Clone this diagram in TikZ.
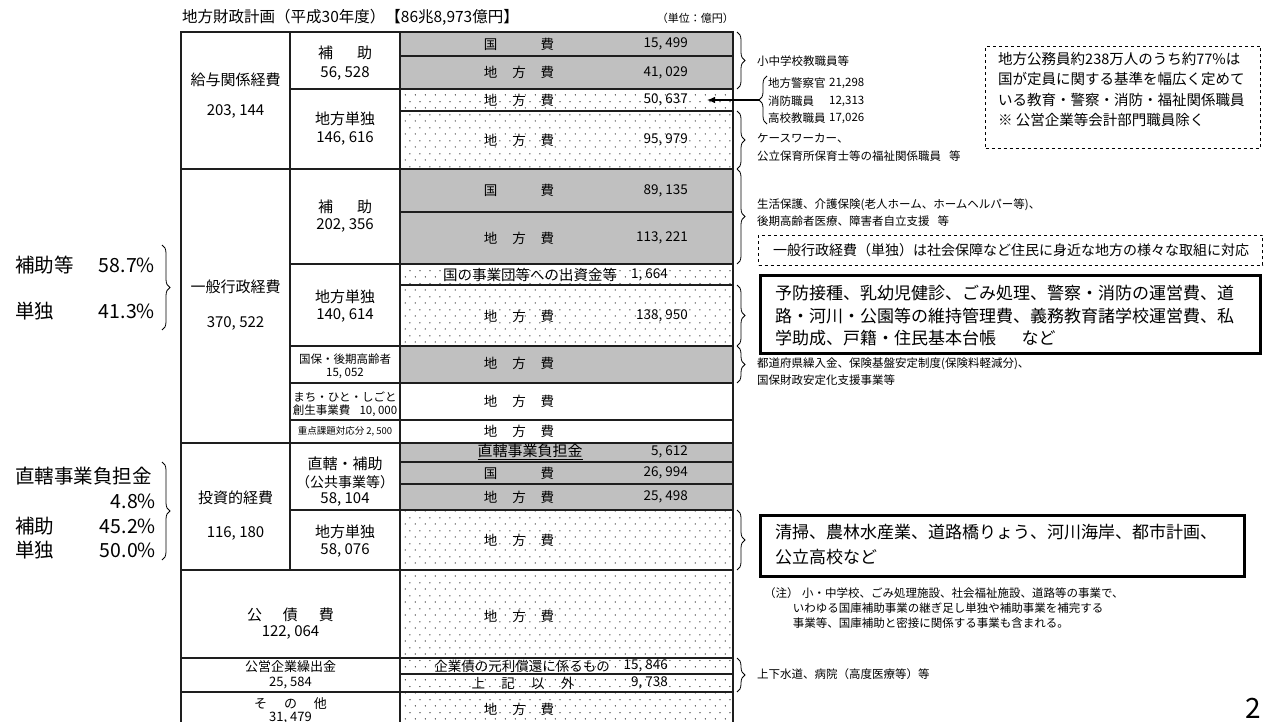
\documentclass[tikz,border=0pt]{standalone}
\usepackage{fontspec}
\setmainfont{Noto Sans CJK JP}
\usetikzlibrary{patterns,decorations.pathreplacing,arrows.meta}
\definecolor{gfill}{RGB}{192,192,192}
\definecolor{lineg}{RGB}{30,30,30}
\pgfdeclarepatternformonly{sparsedots}{\pgfpointorigin}{\pgfpoint{9.6pt}{13pt}}{\pgfpoint{9.6pt}{13pt}}{%
  \pgfpathcircle{\pgfpoint{2.4pt}{3.25pt}}{0.65pt}%
  \pgfpathcircle{\pgfpoint{7.2pt}{9.75pt}}{0.65pt}%
  \pgfusepath{fill}}
\newcommand{\cfee}{地\hspace{1.1em}方\hspace{1.1em}費}
\newcommand{\kfee}{国\hspace{3.2em}費}
\begin{document}
\begin{tikzpicture}[x=1pt,y=-1pt,
  wcell/.style={draw=lineg,line width=1.1pt},
  gcell/.style={draw=lineg,line width=1.1pt,fill=gfill},
  dcell/.style={draw=lineg,line width=1.1pt,pattern=sparsedots},
  lab/.style={font=\fontsize{15}{17}\selectfont,inner sep=0pt,align=center},
  labc/.style={font=\fontsize{13.5}{16}\selectfont,inner sep=0pt,align=center},
  labm/.style={font=\fontsize{13}{15}\selectfont,inner sep=0pt,align=center},
  labs/.style={font=\fontsize{11.5}{13}\selectfont,inner sep=0pt,align=center},
  labt/.style={font=\fontsize{9.5}{11}\selectfont,inner sep=0pt},
  num/.style={font=\fontsize{13.5}{16}\selectfont,inner sep=0pt,anchor=east},
  note/.style={font=\fontsize{11.5}{17.5}\selectfont,inner sep=0pt,anchor=west,align=left},
  big/.style={font=\fontsize{17}{22.5}\selectfont,inner sep=0pt,anchor=west,align=left},
  side/.style={font=\fontsize{19.5}{22}\selectfont,inner sep=0pt},
  brc/.style={decorate,decoration={brace,amplitude=8pt},line width=0.8pt},
]
\useasboundingbox (0,0) rectangle (1264,722);
\begin{scope}
\clip (0,0) rectangle (1264,722);
% ---------- section 1
\draw[wcell] (181,32) rectangle (290,169);
\draw[wcell] (290,32) rectangle (400,89);
\draw[wcell] (290,89) rectangle (400,169);
\draw[gcell] (400,32) rectangle (733,56);
\draw[gcell] (400,56) rectangle (733,89);
\draw[dcell] (400,89) rectangle (733,111);
\draw[dcell] (400,111) rectangle (733,169);
% ---------- section 2
\draw[wcell] (181,169) rectangle (290,443);
\draw[wcell] (290,169) rectangle (400,264);
\draw[wcell] (290,264) rectangle (400,346);
\draw[wcell] (290,346) rectangle (400,383);
\draw[wcell] (290,383) rectangle (400,420);
\draw[wcell] (290,420) rectangle (400,443);
\draw[gcell] (400,169) rectangle (733,212);
\draw[gcell] (400,212) rectangle (733,264);
\draw[dcell] (400,264) rectangle (733,285);
\draw[dcell] (400,285) rectangle (733,346);
\draw[gcell] (400,346) rectangle (733,383);
\draw[wcell] (400,383) rectangle (733,420);
\draw[wcell] (400,420) rectangle (733,443);
% ---------- section 3
\draw[wcell] (181,443) rectangle (290,570);
\draw[wcell] (290,443) rectangle (400,510);
\draw[wcell] (290,510) rectangle (400,570);
\draw[gcell] (400,443) rectangle (733,462);
\draw[gcell] (400,462) rectangle (733,484);
\draw[gcell] (400,484) rectangle (733,510);
\draw[dcell] (400,510) rectangle (733,570);
% ---------- sections 4-6
\draw[wcell] (181,570) rectangle (400,658);
\draw[dcell] (400,570) rectangle (733,658);
\draw[wcell] (181,658) rectangle (400,692);
\draw[dcell] (400,658) rectangle (733,674);
\draw[dcell] (400,674) rectangle (733,692);
\draw[wcell] (181,692) rectangle (400,735);
\draw[dcell] (400,692) rectangle (733,735);
\end{scope}

% ---------- title
\node[font=\fontsize{15.5}{18}\selectfont,inner sep=0pt,anchor=west] (title) at (182,17) {地方財政計画（平成30年度）【86兆8,973億円】};
\node[font=\fontsize{11}{13}\selectfont,inner sep=0pt,anchor=east] (unit) at (734,18) {（単位：億円）};

% ---------- column 1
\node[lab] (c1a) at (235.5,80) {給与関係経費};
\node[lab] (c1b) at (235.5,111) {203, 144};
\node[lab] (c1c) at (235.5,287) {一般行政経費};
\node[lab] (c1d) at (235.5,323) {370, 522};
\node[lab] (c1e) at (235.5,498) {投資的経費};
\node[lab] (c1f) at (235.5,533) {116, 180};
\node[lab] (c1g) at (290.5,615) {公\hspace{1.4em}債\hspace{1.4em}費};
\node[lab] (c1h) at (290.5,632) {122, 064};
\node[labm] (c1i) at (290.5,666.5) {公営企業繰出金};
\node[labm] (c1j) at (290.5,683) {25, 584};
\node[labm] (c1k) at (290.5,703.5) {そ\hspace{1.3em}の\hspace{1.3em}他};
\node[labm] (c1l) at (290.5,718.5) {31, 479};

% ---------- column 2
\node[lab] (c2a) at (345,53) {補\hspace{1.6em}助};
\node[lab] (c2b) at (345,73) {56, 528};
\node[lab] (c2c) at (345,119) {地方単独};
\node[lab] (c2d) at (345,138) {146, 616};
\node[lab] (c2e) at (345,207) {補\hspace{1.6em}助};
\node[lab] (c2f) at (345,225) {202, 356};
\node[lab] (c2g) at (345,297) {地方単独};
\node[lab] (c2h) at (345,315) {140, 614};
\node[labs] (c2i) at (345,359) {国保・後期高齢者};
\node[labs] (c2j) at (345,373.5) {15, 052};
\node[labs] (c2k) at (345,397) {まち・ひと・しごと};
\node[labs] (c2l) at (345,411) {創生事業費\hspace{0.8em}10, 000};
\node[labt] (c2m) at (345,431.5) {重点課題対応分 2, 500};
\node[lab] (c2n) at (345,464) {直轄・補助};
\node[lab,font=\fontsize{14}{16}\selectfont] (c2o) at (345,482) {（公共事業等）};
\node[lab] (c2p) at (345,499) {58, 104};
\node[lab] (c2q) at (345,531.5) {地方単独};
\node[lab] (c2r) at (345,550) {58, 076};

% ---------- column 3
\node[labc] (r1l) at (519,44) {\kfee};
\node[num] (r1n) at (688,44) {15, 499};
\node[labc] (r2l) at (519,72.5) {\cfee};
\node[num] (r2n) at (688,72.5) {41, 029};
\node[labc] (r3l) at (519,100) {\cfee};
\node[num] (r3n) at (688,100) {50, 637};
\node[labc] (r4l) at (519,140) {\cfee};
\node[num] (r4n) at (688,140) {95, 979};
\node[labc] (r5l) at (519,190.5) {\kfee};
\node[num] (r5n) at (688,190.5) {89, 135};
\node[labc] (r6l) at (519,238) {\cfee};
\node[num] (r6n) at (688,238) {113, 221};
\node[lab,font=\fontsize{14.5}{16}\selectfont] (r7l) at (530,274.5) {国の事業団等への出資金等};
\node[num] (r7n) at (668,274.5) {1, 664};
\node[labc] (r8l) at (519,316) {\cfee};
\node[num] (r8n) at (688,316) {138, 950};
\node[labc] (r9l) at (519,363) {\cfee};
\node[labc] (r10l) at (519,401.5) {\cfee};
\node[labc] (r11l) at (519,431.5) {\cfee};
\node[lab] (r12l) at (530,452) {\underline{直轄事業負担金}};
\node[num] (r12n) at (688,452) {5, 612};
\node[labc] (r13l) at (519,473) {\kfee};
\node[num] (r13n) at (688,473) {26, 994};
\node[labc] (r14l) at (519,497) {\cfee};
\node[num] (r14n) at (688,497) {25, 498};
\node[labc] (r15l) at (519,540) {\cfee};
\node[labc] (r16l) at (519,616) {\cfee};
\node[labc] (r17l) at (522,666) {企業債の元利償還に係るもの};
\node[num] (r17n) at (668,666) {15, 846};
\node[labc] (r18l) at (523,683) {上\hspace{1.2em}記\hspace{1.2em}以\hspace{1.2em}外};
\node[num] (r18n) at (668,683) {9, 738};
\node[labc] (r19l) at (519,709) {\cfee};

% ---------- left annotations
\node[side,anchor=west] (l1) at (15,265) {補助等};
\node[side,anchor=east] (l1n) at (155,265) {58.7\%};
\node[side,anchor=west] (l2) at (15,311.5) {単独};
\node[side,anchor=east] (l2n) at (155,311.5) {41.3\%};
\coordinate (lb1t) at (162,245);
\coordinate (lb1b) at (162,330);
\draw[brc] (lb1t) -- (lb1b);
\node[side,anchor=west] (l3) at (15,476.5) {直轄事業負担金};
\node[side,anchor=east] (l3n) at (156,501.5) {4.8\%};
\node[side,anchor=west] (l4) at (15,526.5) {補助};
\node[side,anchor=east] (l4n) at (156,526.5) {45.2\%};
\node[side,anchor=west] (l5) at (15,550) {単独};
\node[side,anchor=east] (l5n) at (156,550) {50.0\%};
\coordinate (lb2t) at (162,462);
\coordinate (lb2b) at (162,560);
\draw[brc] (lb2t) -- (lb2b);

% ---------- right annotations
\coordinate (rb1t) at (737,32);
\coordinate (rb1b) at (737,89);
\draw[brc] (rb1t) -- (rb1b);
\node[note] (n1) at (757,61.5) {小中学校教職員等};

\coordinate (rb2b) at (767,124);
\coordinate (rb2t) at (767,76);
\draw[brc] (rb2b) -- (rb2t);
\coordinate (rb2tip) at (759,100);
\coordinate (arrend) at (707,100);
\draw[line width=1.1pt,-{Latex[length=8pt,width=6.5pt]}] (rb2tip) -- (arrend);
\node[note] (n2) at (768,83) {地方警察官};
\node[note] (n2n) at (829,83) {21,298};
\node[note] (n3) at (768,101) {消防職員};
\node[note] (n3n) at (829,101) {12,313};
\node[note] (n4) at (768,118.5) {高校教職員};
\node[note] (n4n) at (829,118.5) {17,026};

\coordinate (rb3t) at (737,111);
\coordinate (rb3b) at (737,169);
\draw[brc] (rb3t) -- (rb3b);
\node[note] (n5) at (757,147.5) {ケースワーカー、\\公立保育所保育士等の福祉関係職員\hspace{0.7em}等};

\node[draw,dashed,line width=1pt,inner sep=0pt,minimum width=275pt,minimum height=102pt,anchor=north west] (dbox1) at (985,46) {};
\node[font=\fontsize{14.5}{20.3}\selectfont,inner sep=0pt,anchor=north west,align=left] (dtext1) at (998,52) {地方公務員約238万人のうち約77\%は\\国が定員に関する基準を幅広く定めて\\いる教育・警察・消防・福祉関係職員\\※ 公営企業等会計部門職員除く};

\coordinate (rb4t) at (737,169);
\coordinate (rb4b) at (737,264);
\draw[brc] (rb4t) -- (rb4b);
\node[note] (n6) at (757,212.5) {生活保護、介護保険(老人ホーム、ホームヘルパー等)、\\後期高齢者医療、障害者自立支援\hspace{0.7em}等};

\node[draw,dashed,line width=1pt,inner sep=0pt,minimum width=504pt,minimum height=30pt,anchor=north west] (dbox2) at (758,235) {};
\node[font=\fontsize{14}{16}\selectfont,inner sep=0pt,anchor=west] (dtext2) at (773,250) {一般行政経費（単独）は社会保障など住民に身近な地方の様々な取組に対応};

\coordinate (rb5t) at (737,285);
\coordinate (rb5b) at (737,346);
\draw[brc] (rb5t) -- (rb5b);
\node[draw,line width=2.8pt,inner sep=0pt,minimum width=500pt,minimum height=78pt,anchor=north west] (tbox1) at (759,274) {};
\node[big] (ttext1) at (775,316) {予防接種、乳幼児健診、ごみ処理、警察・消防の運営費、道\\路・河川・公園等の維持管理費、義務教育諸学校運営費、私\\学助成、戸籍・住民基本台帳\hspace{1.5em}など};

\coordinate (rb6t) at (737,346);
\coordinate (rb6b) at (737,383);
\draw[brc] (rb6t) -- (rb6b);
\node[note] (n7) at (757,371.5) {都道府県繰入金、保険基盤安定制度(保険料軽減分)、\\国保財政安定化支援事業等};

\coordinate (rb7t) at (737,510);
\coordinate (rb7b) at (737,570);
\draw[brc] (rb7t) -- (rb7b);
\node[draw,line width=2.8pt,inner sep=0pt,minimum width=484pt,minimum height=61pt,anchor=north west] (tbox2) at (759,514) {};
\node[big,font=\fontsize{17}{25}\selectfont] (ttext2) at (775,545) {清掃、農林水産業、道路橋りょう、河川海岸、都市計画、\\公立高校など};

\node[note,font=\fontsize{11.5}{15}\selectfont] (n8) at (764,608) {（注）\hspace{0.3em}小・中学校、ごみ処理施設、社会福祉施設、道路等の事業で、\\\hspace{2.5em}いわゆる国庫補助事業の継ぎ足し単独や補助事業を補完する\\\hspace{2.5em}事業等、国庫補助と密接に関係する事業も含まれる。};

\coordinate (rb8t) at (737,658);
\coordinate (rb8b) at (737,692);
\draw[brc] (rb8t) -- (rb8b);
\node[note] (n9) at (757,674) {上下水道、病院（高度医療等）等};

\node[font=\fontsize{28}{30}\selectfont,inner sep=0pt,anchor=east] (pg) at (1261,708) {2};
\end{tikzpicture}
\end{document}
